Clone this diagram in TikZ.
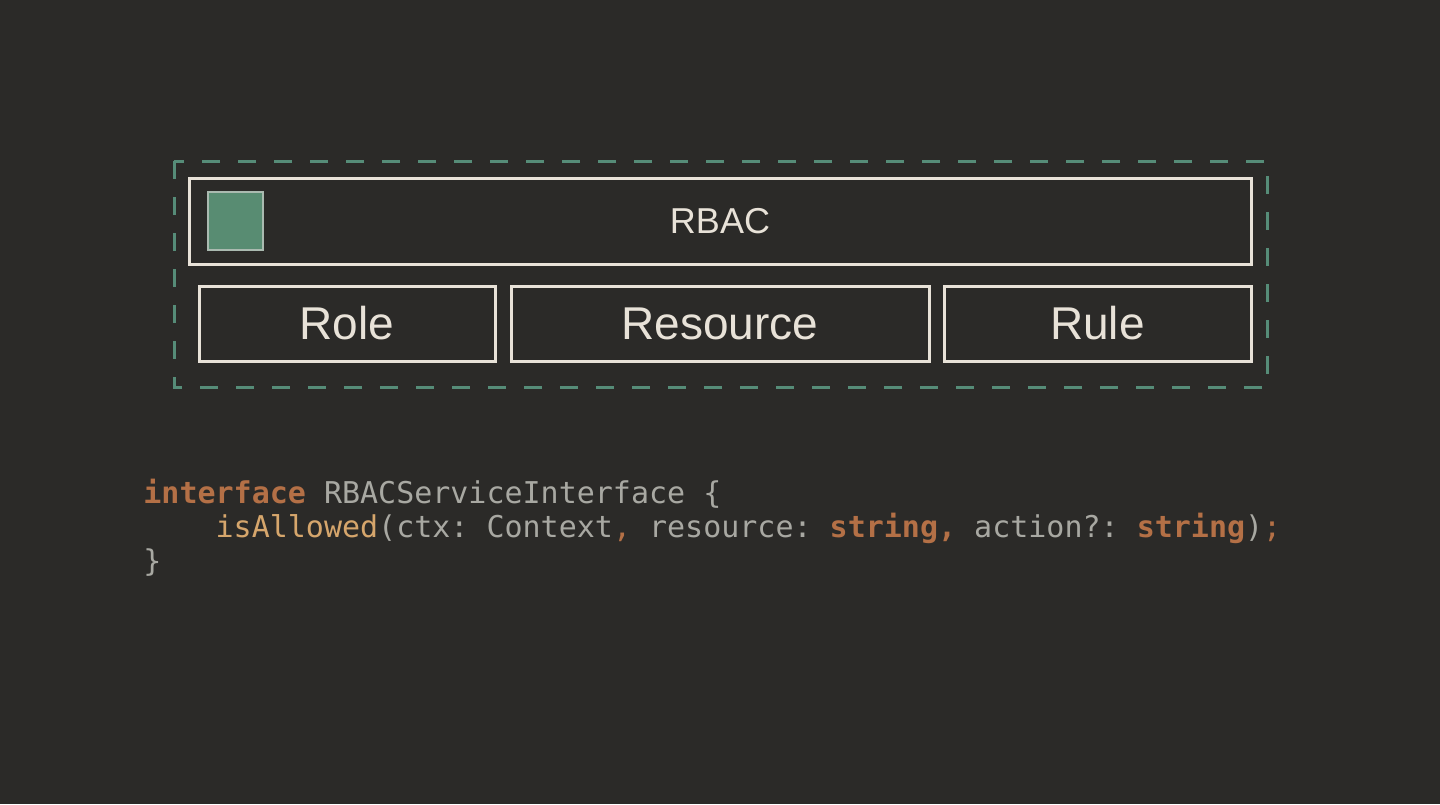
\documentclass[tikz,border=0pt]{standalone}
\usepackage{fontspec}
\setmainfont{Liberation Sans}
\newfontfamily\codefont{DejaVu Sans Mono}
\definecolor{bgc}{RGB}{43,42,40}
\definecolor{dashc}{RGB}{86,140,120}
\definecolor{linec}{RGB}{232,226,216}
\definecolor{sqfill}{RGB}{88,140,114}
\definecolor{sqline}{RGB}{170,186,176}
\definecolor{codegray}{RGB}{168,168,162}
\definecolor{kwc}{RGB}{180,112,70}
\definecolor{fnc}{RGB}{214,166,108}
\tikzset{
  box/.style={draw=linec, line width=1.5pt},
  boxtext/.style={text=linec, font=\fontsize{23}{26}\selectfont},
  codeline/.style={anchor=base west, inner sep=0pt, text=codegray, font=\codefont\fontsize{15}{18}\selectfont\frenchspacing},
}
\newcommand{\kw}[1]{\textcolor{kwc}{\bfseries #1}}
\newcommand{\fn}[1]{\textcolor{fnc}{#1}}
\begin{document}
\frenchspacing
\begin{tikzpicture}[x=0.5pt,y=-0.5pt]
\useasboundingbox (0,0) rectangle (1440,804);
\fill[bgc] (0,0) rectangle (1440,804);
% dashed container
\draw[dashc, line width=1.5pt, dash pattern=on 9pt off 9pt] (174,161) rectangle (1267,387);
% RBAC header
\draw[box] (189,178) rectangle (1251,264);
\node[text=linec, font=\fontsize{18}{21}\selectfont] (rbac) at (720,221) {RBAC};
\node[draw=sqline, fill=sqfill, line width=1pt, minimum width=27.5pt, minimum height=29pt, inner sep=0pt] (sq) at (235.5,221) {};
% sub boxes
\draw[box] (199,286) rectangle (495,361);
\node[boxtext] (role) at (347,323.5) {Role};
\draw[box] (511,286) rectangle (929,361);
\node[boxtext] (resource) at (720,323.5) {Resource};
\draw[box] (944,286) rectangle (1251,361);
\node[boxtext] (rule) at (1097.5,323.5) {Rule};
% code
\node[codeline] (c1) at (143,503) {\kw{interface} RBACServiceInterface \{};
\node[codeline] (c2) at (143,537) {\phantom{xxxx}\fn{isAllowed}(ctx: Context\textcolor{kwc}{,} resource: \kw{string,} action?: \kw{string})\textcolor{kwc}{;}};
\node[codeline] (c3) at (143,571) {\}};
\end{tikzpicture}
\end{document}
